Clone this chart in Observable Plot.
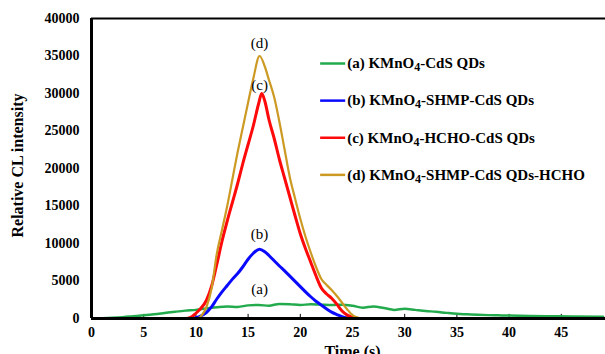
<!DOCTYPE html>
<html><head><meta charset="utf-8">
<script src="https://cdn.jsdelivr.net/npm/d3@7"></script>
<script src="https://cdn.jsdelivr.net/npm/@observablehq/plot@0.6"></script>
<style>body{margin:0;background:#fff}#chart svg{display:block}</style>
</head><body><div id="chart"></div>
<script>
// ---- data ----
const seriesKeys = ["a", "b", "c", "d"];
const seriesLabels = ["(a) KMnO4-CdS QDs", "(b) KMnO4-SHMP-CdS QDs", "(c) KMnO4-HCHO-CdS QDs", "(d) KMnO4-SHMP-CdS QDs-HCHO"];
const annoLabels = ["(a)", "(b)", "(c)", "(d)"];

const tA = [1, 2, 3, 4, 5, 6, 7, 8, 9, 10, 11, 12, 13, 14, 15, 16, 17, 18, 19, 20, 21, 22, 23, 24, 25, 26, 27, 28, 29, 30, 31, 32, 33, 34, 35, 36, 37, 38, 39, 40, 42, 44, 46, 49];
const vA = [50, 100, 180, 300, 420, 560, 730, 900, 1050, 1150, 1350, 1500, 1600, 1550, 1750, 1800, 1700, 1950, 1900, 1800, 1900, 1850, 1800, 1850, 1700, 1450, 1600, 1400, 1150, 1300, 1150, 1000, 900, 750, 620, 560, 500, 450, 420, 390, 340, 300, 260, 220];

const tB = [1, 9, 9.5, 10, 10.5, 11, 11.5, 12, 12.5, 13, 13.5, 14, 14.5, 15, 15.5, 16.1, 16.6, 17, 17.5, 18, 18.5, 19, 19.5, 20, 20.5, 21, 21.5, 22, 22.5, 23, 23.5, 24, 24.5, 25, 49];
const vB = [0, 0, 0, 100, 350, 800, 1550, 2600, 3550, 4400, 5250, 6000, 6900, 7900, 8700, 9250, 8900, 8400, 7700, 7000, 6350, 5650, 4950, 4250, 3550, 2900, 2300, 1800, 1300, 850, 530, 250, 80, 0, 0];

const tC = [1, 9, 9.5, 10, 10.5, 11, 11.5, 12, 12.5, 13, 13.5, 14, 14.5, 15, 15.5, 16, 16.3, 16.6, 17, 17.5, 18, 18.5, 19, 19.5, 20, 20.5, 21, 21.5, 22, 22.5, 23, 23.5, 24, 24.5, 25, 25.5, 49];
const vC = [0, 0, 150, 700, 1400, 2400, 4300, 7200, 10300, 13000, 15500, 18000, 20700, 23200, 25700, 28600, 30000, 29000, 26500, 24000, 21200, 18700, 16200, 13700, 11300, 9300, 7500, 5700, 4100, 3300, 2700, 1900, 1000, 450, 150, 0, 0];

const tD = [1, 10, 10.3, 10.6, 11, 11.5, 12, 12.5, 13, 13.5, 14, 14.5, 15, 15.5, 16.1, 16.6, 17, 17.5, 18, 18.5, 19, 19.5, 20, 20.5, 21, 21.5, 22, 22.5, 23, 23.5, 24, 24.5, 25, 25.5, 26, 49];
const vD = [0, 0, 100, 500, 1500, 4000, 8600, 11800, 15000, 18600, 22200, 25500, 28800, 32000, 35000, 33600, 31800, 29500, 26200, 22500, 18800, 16000, 13300, 10900, 8800, 6900, 5300, 4500, 3800, 3000, 2100, 1200, 450, 120, 0, 0];

const xTicks = [0, 5, 10, 15, 20, 25, 30, 35, 40, 45];
const yTicks = [0, 5000, 10000, 15000, 20000, 25000, 30000, 35000, 40000];
const xLabel = "Time (s)";
const yLabel = "Relative CL intensity";

// ---- styles ----
const colors = {a: "#22aa4c", b: "#0a0aff", c: "#ff0a0a", d: "#cc9a22"};
const widths = {a: 2.5, b: 3, c: 3, d: 2.2};
const font = "'Liberation Serif', 'Times New Roman', serif";

const T = {a: tA, b: tB, c: tC, d: tD};
const V = {a: vA, b: vB, c: vC, d: vD};
const rows = seriesKeys.flatMap(k => T[k].map((t, i) => ({k, t, v: V[k][i]})));

// annotation positions derived from the peaks
const peakIdx = V.d.indexOf(d3.max(V.d));
const annoX = T.d[peakIdx];
const annoDy = [-15, -15, -8, -13];
const annos = seriesKeys.map((k, i) => ({label: annoLabels[i], v: d3.max(V[k]), dy: annoDy[i]}));

// legend placement (computed)
const legX1 = 21.9, legX2 = 24.3, legTop = 34000, legStep = 4950;
const legend = seriesKeys.map((k, i) => ({k, label: seriesLabels[i], y: legTop - i * legStep}));

const chart = Plot.plot({
  width: 605, height: 354,
  marginLeft: 91, marginRight: -8, marginTop: 18, marginBottom: 36,
  style: {fontFamily: font, color: "#000", background: "#fff", overflow: "hidden"},
  x: {domain: [0, 50]},
  y: {domain: [0, 40000]},
  marks: [
    Plot.axisY({ticks: yTicks, tickSize: 0, tickPadding: 12, fontSize: 14, fontWeight: "bold", label: null, tickFormat: d => String(d)}),
    Plot.axisX({ticks: xTicks, tickSize: 0, tickPadding: 9, fontSize: 14, fontWeight: "bold", label: null}),
    Plot.ruleX(xTicks.slice(1), {y1: 0, y2: 550, stroke: "#000", strokeWidth: 1}),
    Plot.line(rows, {x: "t", y: "v", z: "k", stroke: d => colors[d.k], strokeWidth: d => widths[d.k], curve: "monotone-x"}),
    Plot.ruleY([40000], {stroke: "#000", strokeWidth: 2}),
    Plot.ruleX([0], {stroke: "#000", strokeWidth: 3}),
    Plot.ruleY([0], {stroke: "#000", strokeWidth: 3}),
    Plot.text(annos, {x: () => annoX, y: "v", text: "label", fontSize: 15, fill: "#000"}),
    Plot.link(legend, {x1: () => legX1, x2: () => legX2, y1: "y", y2: "y", stroke: d => colors[d.k], strokeWidth: 2.5}),
    Plot.text(legend, {x: () => legX2, y: "y", text: "label", textAnchor: "start", dx: 2, fontSize: 15, fontWeight: "bold", fill: "#000"}),
    Plot.text([yLabel], {text: d => d, frameAnchor: "left", textAnchor: "middle", dx: -74, dy: -3, rotate: -90, fontSize: 16, fontWeight: "bold", fill: "#000"}),
    Plot.text([xLabel], {text: d => d, frameAnchor: "bottom", textAnchor: "middle", dy: 27, lineAnchor: "top", fontSize: 16, fontWeight: "bold", fill: "#000"})
  ]
});

// apply pixel offsets for annotations
d3.select(chart).selectAll("text").each(function() {
  const i = annoLabels.indexOf(this.textContent);
  if (i >= 0) {
    const tr = this.getAttribute("transform") || "";
    this.setAttribute("transform", tr + ` translate(0,${annos[i].dy})`);
  }
});
// subscript 4 in legend
d3.select(chart).selectAll("text").each(function() {
  const s = this.textContent;
  if (s.includes("KMnO4")) {
    const parts = s.split("KMnO4");
    const sel = d3.select(this);
    sel.text(null);
    sel.append("tspan").text(parts[0] + "KMnO");
    sel.append("tspan").attr("dy", "0.25em").attr("font-size", "0.8em").text("4");
    sel.append("tspan").attr("dy", "-0.2em").text(parts[1]);
  }
});
document.getElementById("chart").appendChild(chart);
</script></body></html>
